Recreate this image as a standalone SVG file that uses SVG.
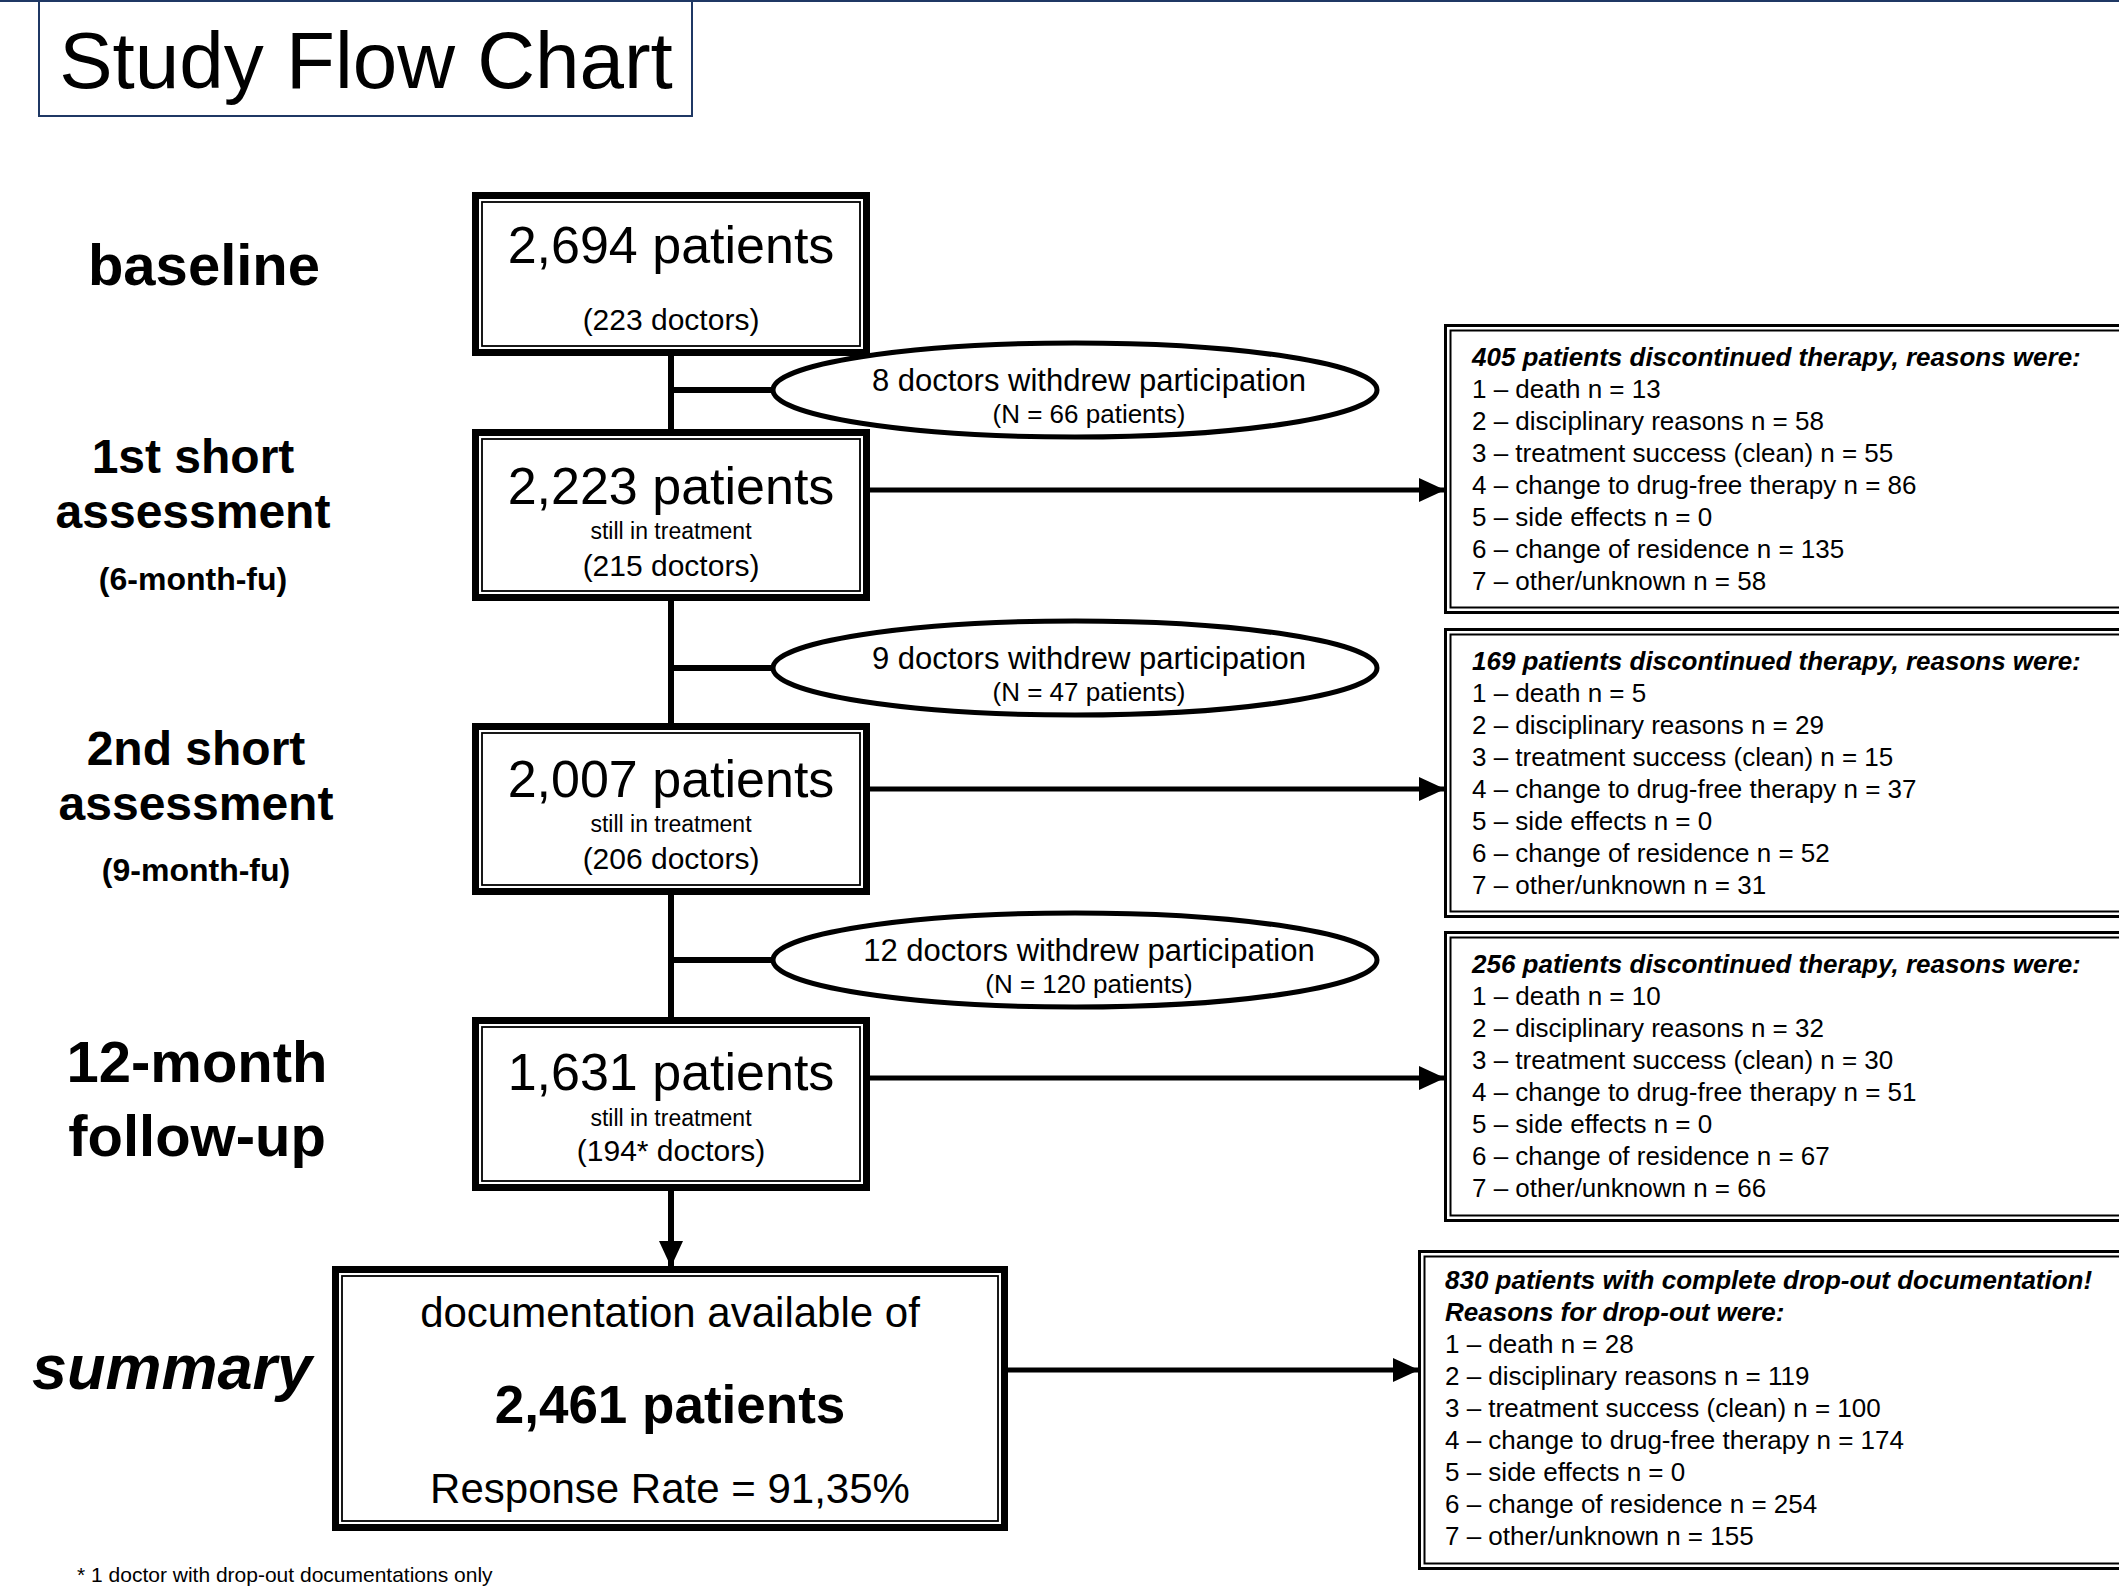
<svg xmlns="http://www.w3.org/2000/svg" width="2119" height="1589" viewBox="0 0 2119 1589">
<defs>
<style>
text{font-family:"Liberation Sans",Arial,sans-serif;fill:#000}
.lbl{font-weight:bold;text-anchor:middle}
.c{text-anchor:middle}
.thick{fill:none;stroke:#000;stroke-width:7}
.thin{fill:none;stroke:#000;stroke-width:1.8}
.rb1{fill:none;stroke:#000;stroke-width:3}
.rb2{fill:none;stroke:#000;stroke-width:2}
.big{font-size:52px}
.sit{font-size:23px}
.doc{font-size:30px}
.ell{fill:#fff;stroke:#000;stroke-width:5}
.e1{font-size:31px}
.e2{font-size:26px}
.lst{font-size:26px}
.hd{font-size:26px;font-weight:bold;font-style:italic}
.con{stroke:#000;stroke-width:6;fill:none}
.arr{stroke:#000;stroke-width:5;fill:none}
</style>
<marker id="ah" markerUnits="userSpaceOnUse" markerWidth="26" markerHeight="24" refX="25" refY="12" orient="auto">
<path d="M0,0 L26,12 L0,24 z" fill="#000"/>
</marker>
</defs>
<rect x="0" y="0" width="2119" height="1589" fill="#fff"/>
<line x1="0" y1="1" x2="2119" y2="1" stroke="#1F3864" stroke-width="2"/>
<g id="title">
<rect x="39" y="-5" width="653" height="121" fill="none" stroke="#1F3864" stroke-width="2"/>
<text x="366" y="88" class="c" font-size="80">Study Flow Chart</text>
</g>
<g id="labels">
<text x="204" y="285" class="lbl" font-size="58">baseline</text>
<text x="193" y="473" class="lbl" font-size="48">1st short</text>
<text x="193" y="528" class="lbl" font-size="48">assessment</text>
<text x="193" y="590" class="lbl" font-size="32">(6-month-fu)</text>
<text x="196" y="765" class="lbl" font-size="48">2nd short</text>
<text x="196" y="820" class="lbl" font-size="48">assessment</text>
<text x="196" y="881" class="lbl" font-size="32">(9-month-fu)</text>
<text x="197" y="1082" class="lbl" font-size="58">12-month</text>
<text x="197" y="1156" class="lbl" font-size="58">follow-up</text>
<text x="172" y="1389" class="lbl" font-size="63" font-style="italic">summary</text>
<text x="77" y="1582" font-size="21">* 1 doctor with drop-out documentations only</text>
</g>
<g id="connectors">
<line class="con" x1="671" y1="356" x2="671" y2="1017"/>
<line class="con" x1="671" y1="390" x2="775" y2="390"/>
<line class="con" x1="671" y1="668" x2="775" y2="668"/>
<line class="con" x1="671" y1="960" x2="775" y2="960"/>
<line class="con" x1="671" y1="1191" x2="671" y2="1266" marker-end="url(#ah)"/>
<line class="arr" x1="870" y1="490" x2="1444" y2="490" marker-end="url(#ah)"/>
<line class="arr" x1="870" y1="789" x2="1444" y2="789" marker-end="url(#ah)"/>
<line class="arr" x1="870" y1="1078" x2="1444" y2="1078" marker-end="url(#ah)"/>
<line class="arr" x1="1008" y1="1370" x2="1418" y2="1370" marker-end="url(#ah)"/>
</g>
<g id="n-baseline">
<rect x="472" y="192" width="398" height="164" fill="#fff"/>
<rect class="thick" x="475.5" y="195.5" width="391" height="157"/>
<rect class="thin" x="482" y="202" width="378" height="144"/>
<text x="671" y="263" class="c big">2,694 patients</text>
<text x="671" y="330" class="c doc">(223 doctors)</text>
</g>
<g id="n-6month">
<rect x="472" y="429" width="398" height="172" fill="#fff"/>
<rect class="thick" x="475.5" y="432.5" width="391" height="165"/>
<rect class="thin" x="482" y="439" width="378" height="152"/>
<text x="671" y="504" class="c big">2,223 patients</text>
<text x="671" y="539" class="c sit">still in treatment</text>
<text x="671" y="576" class="c doc">(215 doctors)</text>
</g>
<g id="n-9month">
<rect x="472" y="723" width="398" height="172" fill="#fff"/>
<rect class="thick" x="475.5" y="726.5" width="391" height="165"/>
<rect class="thin" x="482" y="733" width="378" height="152"/>
<text x="671" y="797" class="c big">2,007 patients</text>
<text x="671" y="832" class="c sit">still in treatment</text>
<text x="671" y="869" class="c doc">(206 doctors)</text>
</g>
<g id="n-12month">
<rect x="472" y="1017" width="398" height="174" fill="#fff"/>
<rect class="thick" x="475.5" y="1020.5" width="391" height="167"/>
<rect class="thin" x="482" y="1027" width="378" height="154"/>
<text x="671" y="1090" class="c big">1,631 patients</text>
<text x="671" y="1126" class="c sit">still in treatment</text>
<text x="671" y="1161" class="c doc">(194* doctors)</text>
</g>
<g id="n-summary">
<rect x="332" y="1266" width="676" height="265" fill="#fff"/>
<rect class="thick" x="335.5" y="1269.5" width="669" height="258"/>
<rect class="thin" x="342" y="1276" width="656" height="245"/>
<text x="670" y="1327" class="c" font-size="42">documentation available of</text>
<text x="670" y="1423" class="c" font-size="53" font-weight="bold">2,461 patients</text>
<text x="670" y="1503" class="c" font-size="42">Response Rate = 91,35%</text>
</g>
<g id="e-withdraw1">
<ellipse class="ell" cx="1075" cy="390" rx="302" ry="47"/>
<text x="1089" y="391" class="c e1">8 doctors withdrew participation</text>
<text x="1089" y="423" class="c e2">(N = 66 patients)</text>
</g>
<g id="e-withdraw2">
<ellipse class="ell" cx="1075" cy="668" rx="302" ry="47"/>
<text x="1089" y="669" class="c e1">9 doctors withdrew participation</text>
<text x="1089" y="701" class="c e2">(N = 47 patients)</text>
</g>
<g id="e-withdraw3">
<ellipse class="ell" cx="1075" cy="960" rx="302" ry="47"/>
<text x="1089" y="961" class="c e1">12 doctors withdrew participation</text>
<text x="1089" y="993" class="c e2">(N = 120 patients)</text>
</g>
<g id="r-6month">
<rect class="rb1" x="1445.5" y="325.5" width="720" height="287"/>
<rect class="rb2" x="1450.5" y="330.5" width="720" height="277"/>
<text x="1472" y="366" class="hd">405 patients discontinued therapy, reasons were:</text>
<text x="1472" y="398" class="lst">1 – death n = 13</text>
<text x="1472" y="430" class="lst">2 – disciplinary reasons n = 58</text>
<text x="1472" y="462" class="lst">3 – treatment success (clean) n = 55</text>
<text x="1472" y="494" class="lst">4 – change to drug-free therapy n = 86</text>
<text x="1472" y="526" class="lst">5 – side effects n = 0</text>
<text x="1472" y="558" class="lst">6 – change of residence n = 135</text>
<text x="1472" y="590" class="lst">7 – other/unknown n = 58</text>
</g>
<g id="r-9month">
<rect class="rb1" x="1445.5" y="629.5" width="720" height="287"/>
<rect class="rb2" x="1450.5" y="634.5" width="720" height="277"/>
<text x="1472" y="670" class="hd">169 patients discontinued therapy, reasons were:</text>
<text x="1472" y="702" class="lst">1 – death n = 5</text>
<text x="1472" y="734" class="lst">2 – disciplinary reasons n = 29</text>
<text x="1472" y="766" class="lst">3 – treatment success (clean) n = 15</text>
<text x="1472" y="798" class="lst">4 – change to drug-free therapy n = 37</text>
<text x="1472" y="830" class="lst">5 – side effects n = 0</text>
<text x="1472" y="862" class="lst">6 – change of residence n = 52</text>
<text x="1472" y="894" class="lst">7 – other/unknown n = 31</text>
</g>
<g id="r-12month">
<rect class="rb1" x="1445.5" y="932.5" width="720" height="288"/>
<rect class="rb2" x="1450.5" y="937.5" width="720" height="278"/>
<text x="1472" y="973" class="hd">256 patients discontinued therapy, reasons were:</text>
<text x="1472" y="1005" class="lst">1 – death n = 10</text>
<text x="1472" y="1037" class="lst">2 – disciplinary reasons n = 32</text>
<text x="1472" y="1069" class="lst">3 – treatment success (clean) n = 30</text>
<text x="1472" y="1101" class="lst">4 – change to drug-free therapy n = 51</text>
<text x="1472" y="1133" class="lst">5 – side effects n = 0</text>
<text x="1472" y="1165" class="lst">6 – change of residence n = 67</text>
<text x="1472" y="1197" class="lst">7 – other/unknown n = 66</text>
</g>
<g id="r-summary">
<rect class="rb1" x="1419.5" y="1251.5" width="720" height="317"/>
<rect class="rb2" x="1424.5" y="1256.5" width="720" height="307"/>
<text x="1445" y="1289" class="hd">830 patients with complete drop-out documentation!</text>
<text x="1445" y="1321" class="hd">Reasons for drop-out were:</text>
<text x="1445" y="1353" class="lst">1 – death n = 28</text>
<text x="1445" y="1385" class="lst">2 – disciplinary reasons n = 119</text>
<text x="1445" y="1417" class="lst">3 – treatment success (clean) n = 100</text>
<text x="1445" y="1449" class="lst">4 – change to drug-free therapy n = 174</text>
<text x="1445" y="1481" class="lst">5 – side effects n = 0</text>
<text x="1445" y="1513" class="lst">6 – change of residence n = 254</text>
<text x="1445" y="1545" class="lst">7 – other/unknown n = 155</text>
</g>
</svg>
